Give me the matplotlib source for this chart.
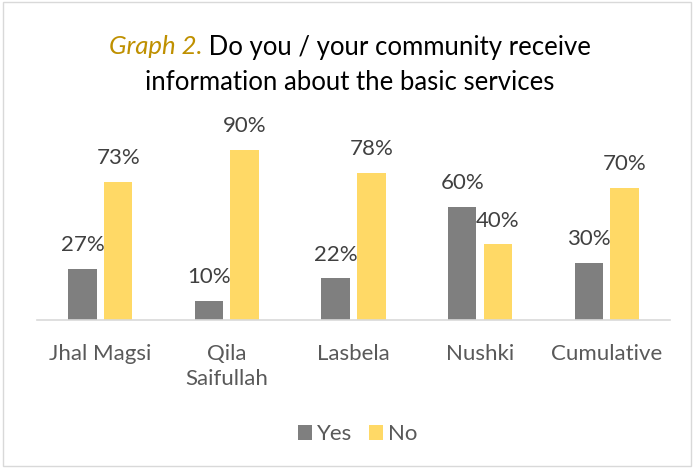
import matplotlib
matplotlib.use("Agg")
import matplotlib.pyplot as plt
from matplotlib.patches import Rectangle
import numpy as np

# Survey results per district (percent)
districts = ["Jhal Magsi", "Qila\nSaifullah", "Lasbela", "Nushki", "Cumulative"]
yes_pct = [27, 10, 22, 60, 30]
no_pct = [73, 90, 78, 40, 70]

GREY = "#7f7f7f"
GOLD = "#ffd966"
TEXT = "#404040"

plt.rcParams["font.family"] = ["Lato", "DejaVu Sans"]

fig = plt.figure(figsize=(6.94, 4.68), dpi=100)
ax = fig.add_axes([0.0533, 0.3162, 0.912, 0.4036])

x = np.arange(len(districts))
w = 0.225
off = 0.141
b1 = ax.bar(x - off, yes_pct, w, color=GREY, label="Yes")
b2 = ax.bar(x + off, no_pct, w, color=GOLD, label="No")

for bars, vals in ((b1, yes_pct), (b2, no_pct)):
    for r, v in zip(bars, vals):
        ax.annotate(f"{v}%", (r.get_x() + r.get_width() / 2, v),
                    xytext=(0, 10), textcoords="offset points",
                    ha="center", va="bottom", fontsize=16, color=TEXT)

ax.set_xlim(-0.5, len(districts) - 0.5)
ax.set_ylim(0, 100)
ax.set_yticks([])
ax.set_xticks(x)
ax.set_xticklabels(districts, fontsize=16, color="#595959", linespacing=1.35)
ax.tick_params(axis="x", length=0, pad=17)
for s in ("top", "left", "right"):
    ax.spines[s].set_visible(False)
ax.spines["bottom"].set_color("#d9d9d9")
ax.spines["bottom"].set_linewidth(1.2)

# Title: italic gold prefix followed by black text, centred as one line
fig.canvas.draw()
r = fig.canvas.get_renderer()
t1 = fig.text(0, 0, "Graph 2.", fontsize=18.5, style="italic", color="#bf9000")
t2 = fig.text(0, 0, " Do you / your community receive", fontsize=18.5, color="black")
w1 = t1.get_window_extent(r).width
w2 = t2.get_window_extent(r).width
W = fig.bbox.width
x0 = (W - w1 - w2) / 2 + 3
y1 = 1 - 47 / 468
t1.set_position((x0 / W, y1))
t2.set_position(((x0 + w1) / W, y1))
t1.set_va("center")
t2.set_va("center")
fig.text(0.5 + 3 / 694, 1 - 82 / 468, "information about the basic services",
         fontsize=18.5, ha="center", va="center", color="black")

fig.legend(handles=[b1, b2], loc="center", bbox_to_anchor=(357.5 / 694, 1 - 434 / 468),
           ncol=2, frameon=False, fontsize=16, handlelength=0.64,
           handleheight=0.64, handletextpad=0.23, columnspacing=0.73,
           labelcolor="#595959")

fig.patches.append(Rectangle((0.004, 0.004), 0.992, 0.992, transform=fig.transFigure,
                             fill=False, edgecolor="#d9d9d9", linewidth=1))

fig.savefig("out.png", dpi=100)
